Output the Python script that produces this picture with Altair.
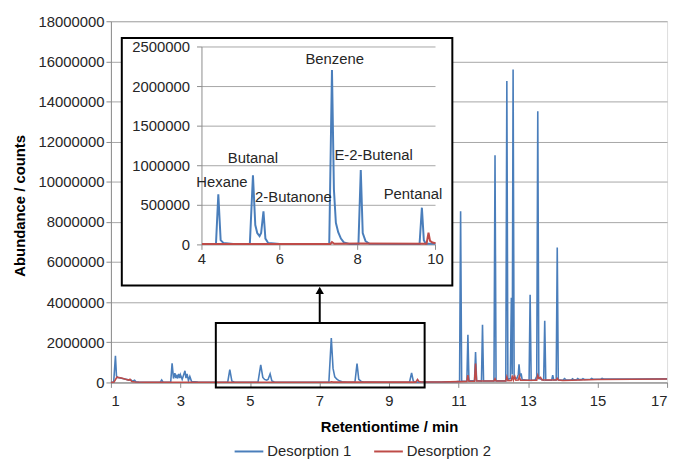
import altair as alt
import pandas as pd

# ---------------- data ----------------
series_names = ["Desorption 1", "Desorption 2"]
series_colors = ["#4a7ebb", "#be4b48"]

# Desorption 1 (blue): retention time [min], abundance [counts]
blue_t = [1.00, 1.08, 1.13, 1.16, 1.20, 1.30, 1.40, 1.50, 1.58, 1.62, 1.68, 1.72, 1.80, 2.00,
          2.42, 2.46, 2.50, 2.72, 2.76, 2.80, 2.84, 2.87, 2.89, 2.92, 2.95, 2.98, 3.00, 3.05,
          3.13, 3.16, 3.19, 3.23, 3.27, 3.32, 3.50, 4.00,
          4.36, 4.42, 4.48, 4.55, 4.80,
          5.23, 5.31, 5.37, 5.42, 5.48, 5.52, 5.58, 5.63, 5.70, 6.00,
          7.27, 7.34, 7.39, 7.44, 7.50, 7.57, 7.65, 7.80,
          8.02, 8.08, 8.13, 8.20, 8.30, 9.00,
          9.59, 9.65, 9.70, 9.75, 10.00,
          10.50, 10.95, 11.03, 11.06, 11.09, 11.24, 11.27, 11.30, 11.46, 11.49, 11.52,
          11.66, 11.69, 11.72, 12.02, 12.05, 12.08, 12.36, 12.39, 12.42, 12.49, 12.52,
          12.545, 12.57, 12.60, 12.68, 12.72, 12.74, 12.77, 12.80, 12.83, 13.03, 13.06,
          13.09, 13.20, 13.25, 13.28, 13.31, 13.45, 13.48, 13.51, 13.68, 13.71, 13.74,
          13.81, 13.84, 13.87, 14.00, 14.05, 14.10, 14.25, 14.28, 14.32, 14.40, 14.43,
          14.47, 14.55, 14.58, 14.62, 14.80, 14.83, 14.87, 15.10, 15.13, 15.17, 16.00, 17.00]
blue_v = [0, 20000, 1330000, 320000, 240000, 210000, 170000, 130000, 120000, 60000, 110000, 30000, 15000, 10000,
          10000, 120000, 10000, 20000, 950000, 200000, 460000, 220000, 380000, 200000, 430000, 220000, 380000, 150000,
          580000, 220000, 430000, 100000, 300000, 50000, 15000, 10000,
          10000, 640000, 60000, 25000, 10000,
          10000, 880000, 250000, 150000, 110000, 150000, 425000, 80000, 25000, 10000,
          10000, 2210000, 700000, 280000, 160000, 80000, 30000, 10000,
          10000, 946000, 150000, 50000, 15000, 12000,
          12000, 470000, 60000, 15000, 15000,
          20000, 40000, 50000, 8530000, 60000, 70000, 2380000, 80000, 80000, 1510000, 90000,
          70000, 2880000, 70000, 70000, 11320000, 80000, 80000, 15020000, 150000, 200000, 4220000,
          400000, 15600000, 250000, 200000, 400000, 900000, 300000, 450000, 150000, 100000, 4370000,
          100000, 120000, 300000, 13510000, 200000, 120000, 3070000, 110000, 110000, 360000, 120000,
          120000, 6720000, 130000, 110000, 190000, 120000, 130000, 180000, 130000, 140000, 190000,
          140000, 150000, 190000, 150000, 160000, 200000, 160000, 170000, 200000, 170000, 175000, 180000]

# Desorption 2 (red)
red_t = [1.00, 1.09, 1.17, 1.30, 1.42, 1.51, 1.55, 1.60, 1.70, 2.00, 4.00, 7.30, 7.34, 7.40,
         8.08, 9.77, 9.82, 9.86, 9.92, 10.00, 10.50, 11.00, 11.24, 11.27, 11.30, 11.46, 11.49,
         11.52, 12.02, 12.05, 12.08, 12.36, 12.39, 12.42, 12.52, 12.55, 12.58, 12.62, 12.65,
         12.72, 12.75, 12.78, 13.25, 13.28, 13.31, 13.36, 13.40, 13.81, 13.84, 13.87, 14.00,
         14.50, 15.00, 16.00, 17.00]
red_v = [0, 20000, 260000, 220000, 160000, 120000, 160000, 50000, 20000, 12000, 12000, 12000, 35000, 15000,
         18000, 15000, 154000, 50000, 30000, 20000, 25000, 40000, 50000, 360000, 60000, 60000, 940000,
         70000, 70000, 180000, 70000, 80000, 280000, 90000, 100000, 350000, 120000, 300000, 110000,
         120000, 300000, 110000, 110000, 350000, 200000, 250000, 120000, 120000, 200000, 120000, 100000,
         120000, 150000, 160000, 170000]

# compound labels of the inset
label_names = ["Hexane", "Butanal", "2-Butanone", "Benzene", "E-2-Butenal", "Pentanal"]
label_t = [4.51, 5.31, 6.35, 7.41, 8.41, 9.42]
label_v = [800000, 1100000, 610000, 2350000, 1140000, 640000]

main_x_ticks = [1, 3, 5, 7, 9, 11, 13, 15, 17]
main_y_ticks = [0, 2000000, 4000000, 6000000, 8000000, 10000000, 12000000, 14000000, 16000000, 18000000]
inset_x_ticks = [4, 6, 8, 10]
inset_y_ticks = [0, 500000, 1000000, 1500000, 2000000, 2500000]

# ---------------- layout (pixels on the page) ----------------
PL, PR, PT, PB = 112, 674, 19, 384          # main plot area
W, H = PR - PL, PB - PT
MX = (1, 17); MY = (0, 18000000)
IX_PX = (204, 440); IX = (4, 10)            # inset x axis
IY_PX = (245, 45); IY = (0, 2500000)        # inset y axis
BOX_PX = (123, 36, 457, 286)                # inset frame
ZOOM_PX = (218, 324, 429, 389)              # zoom frame
ARROW_X_PX, ARROW_HEAD_PX = 323, 291

def mx(px): return MX[0] + (px - PL) / W * (MX[1] - MX[0])
def my(py): return MY[0] + (PB - py) / H * (MY[1] - MY[0])
def ix(px): return IX[0] + (px - IX_PX[0]) / (IX_PX[1] - IX_PX[0]) * (IX[1] - IX[0])
def iy(py): return IY[0] + (IY_PX[0] - py) / (IY_PX[0] - IY_PX[1]) * (IY[1] - IY[0])

FONT = "Liberation Sans"
TXT = "#262626"
GRID = "#a6a6a6"
AX = "#8c8c8c"

df = pd.concat([
    pd.DataFrame({"t": blue_t, "v": blue_v, "series": series_names[0]}),
    pd.DataFrame({"t": red_t, "v": red_v, "series": series_names[1]}),
], ignore_index=True)

color = alt.Color("series:N", scale=alt.Scale(domain=series_names, range=series_colors),
                  legend=alt.Legend(title=None, orient="none", legendX=124, legendY=419,
                                    direction="horizontal", symbolType="stroke", symbolSize=841,
                                    symbolStrokeWidth=2, labelFontSize=15, labelFont=FONT,
                                    labelColor=TXT, columnPadding=18, labelOffset=3))

mxs = alt.Scale(domain=list(MX), nice=False, zero=False)
mys = alt.Scale(domain=list(MY), nice=False, zero=False)
x_axis = alt.Axis(values=main_x_ticks, grid=False, title="Retentiontime / min", labelFontSize=15,
                  labelFont=FONT, labelColor=TXT, tickSize=5, labelPadding=6, tickColor=AX,
                  domainColor=AX, titleFontSize=15, titleFont=FONT, titleFontWeight="bold",
                  titleColor="#000", titleY=45, titleBaseline="middle")
y_axis = alt.Axis(values=main_y_ticks, format="d", grid=True, gridColor=GRID, title="Abundance / counts",
                  labelFontSize=15, labelFont=FONT, labelColor=TXT, tickSize=5, labelPadding=2,
                  tickColor=AX, domainColor=AX, titleFontSize=15, titleFont=FONT,
                  titleFontWeight="bold", titleColor="#000", titleX=-92, titleY=186,
                  titleBaseline="middle", titleAngle=270)

def MXe(f="t"): return alt.X(f + ":Q", scale=mxs, axis=x_axis, title="Retentiontime / min")
def MYe(f="v"): return alt.Y(f + ":Q", scale=mys, axis=y_axis, title="Abundance / counts")

main_lines = alt.Chart(df).mark_line(strokeWidth=1.6).encode(x=MXe(), y=MYe(), color=color)

zoom_df = pd.DataFrame({"t": [mx(ZOOM_PX[0])], "t2": [mx(ZOOM_PX[2])],
                        "v": [my(ZOOM_PX[1])], "v2": [my(ZOOM_PX[3])]})
zoom_box = alt.Chart(zoom_df).mark_rect(fillOpacity=0, stroke="black", strokeWidth=2).encode(
    x=MXe(), x2="t2:Q", y=MYe(), y2="v2:Q")

arrow_df = pd.DataFrame({"t": [mx(ARROW_X_PX)], "v": [my(ZOOM_PX[1])], "v2": [my(ARROW_HEAD_PX)]})
arrow_line = alt.Chart(arrow_df).mark_rule(color="black", strokeWidth=2).encode(x=MXe(), y=MYe(), y2="v2:Q")
arrow_head = alt.Chart(arrow_df).mark_point(shape="triangle-up", filled=True, color="black",
                                            size=70, opacity=1).encode(x=MXe(), y=MYe("v2"))

main_layer = alt.layer(main_lines, zoom_box, arrow_line, arrow_head)

# ---------------- inset ----------------
ixs = alt.Scale(domain=[ix(PL), ix(PR)], nice=False, zero=False)
iys = alt.Scale(domain=[iy(PB), iy(PT)], nice=False, zero=False)
def IXe(f="t"): return alt.X(f + ":Q", scale=ixs, axis=None)
def IYe(f="v"): return alt.Y(f + ":Q", scale=iys, axis=None)

bg_df = pd.DataFrame({"t": [ix(BOX_PX[0])], "t2": [ix(BOX_PX[2])], "v": [iy(BOX_PX[1])], "v2": [iy(BOX_PX[3])]})
inset_bg = alt.Chart(bg_df).mark_rect(fill="white", stroke="black", strokeWidth=2).encode(
    x=IXe(), x2="t2:Q", y=IYe(), y2="v2:Q")

ygrid_df = pd.DataFrame({"v": inset_y_ticks[1:], "t": IX[0], "t2": IX[1]})
inset_grid = alt.Chart(ygrid_df).mark_rule(color=GRID, strokeWidth=1).encode(x=IXe(), x2="t2:Q", y=IYe())

yt_df = pd.DataFrame({"v": inset_y_ticks, "t": IX[0], "t2": IX[0], "lab": [str(v) for v in inset_y_ticks]})
inset_yticks = alt.Chart(yt_df).mark_rule(color=AX, strokeWidth=1, xOffset=-5).encode(x=IXe(), x2="t2:Q", y=IYe())
inset_ylabels = alt.Chart(yt_df).mark_text(align="right", baseline="middle", dx=-12, fontSize=15,
                                           font=FONT, color=TXT).encode(x=IXe(), y=IYe(), text="lab:N")

xt_df = pd.DataFrame({"t": inset_x_ticks, "v": 0, "v2": 0, "lab": [str(v) for v in inset_x_ticks]})
inset_xticks = alt.Chart(xt_df).mark_rule(color=AX, strokeWidth=1, y2Offset=5).encode(x=IXe(), y=IYe(), y2="v2:Q")
inset_xlabels = alt.Chart(xt_df).mark_text(align="center", baseline="middle", dy=14, fontSize=15,
                                           font=FONT, color=TXT).encode(x=IXe(), y=IYe(), text="lab:N")

axl_df = pd.DataFrame({"t": [IX[0], IX[0]], "t2": [IX[0], IX[1]], "v": [IY[0], IY[0]], "v2": [IY[1], IY[0]]})
inset_axes = alt.Chart(axl_df).mark_rule(color=AX, strokeWidth=1).encode(x=IXe(), x2="t2:Q", y=IYe(), y2="v2:Q")

inset_lines = alt.Chart(df).transform_filter(
    (alt.datum.t >= IX[0]) & (alt.datum.t <= IX[1])
).mark_line(strokeWidth=2).encode(x=IXe(), y=IYe(), color=color)

lab_df = pd.DataFrame({"t": label_t, "v": label_v, "lab": label_names})
inset_labels = alt.Chart(lab_df).mark_text(align="center", baseline="middle", fontSize=15, font=FONT,
                                           color=TXT).encode(x=IXe(), y=IYe(), text="lab:N")

inset_layer = alt.layer(inset_bg, inset_grid, inset_axes, inset_yticks, inset_xticks,
                        inset_ylabels, inset_xlabels, inset_lines, inset_labels)

chart = alt.layer(main_layer, inset_layer).resolve_scale(
    x="independent", y="independent"
).properties(
    width=W, height=H, autosize=alt.AutoSizeParams(type="none"),
    padding={"left": PL - 8, "top": PT - 8, "right": 8, "bottom": 78},
).configure_view(stroke=None).configure(font=FONT)

chart.save("out.html", embed_options={"renderer": "svg", "actions": False})
